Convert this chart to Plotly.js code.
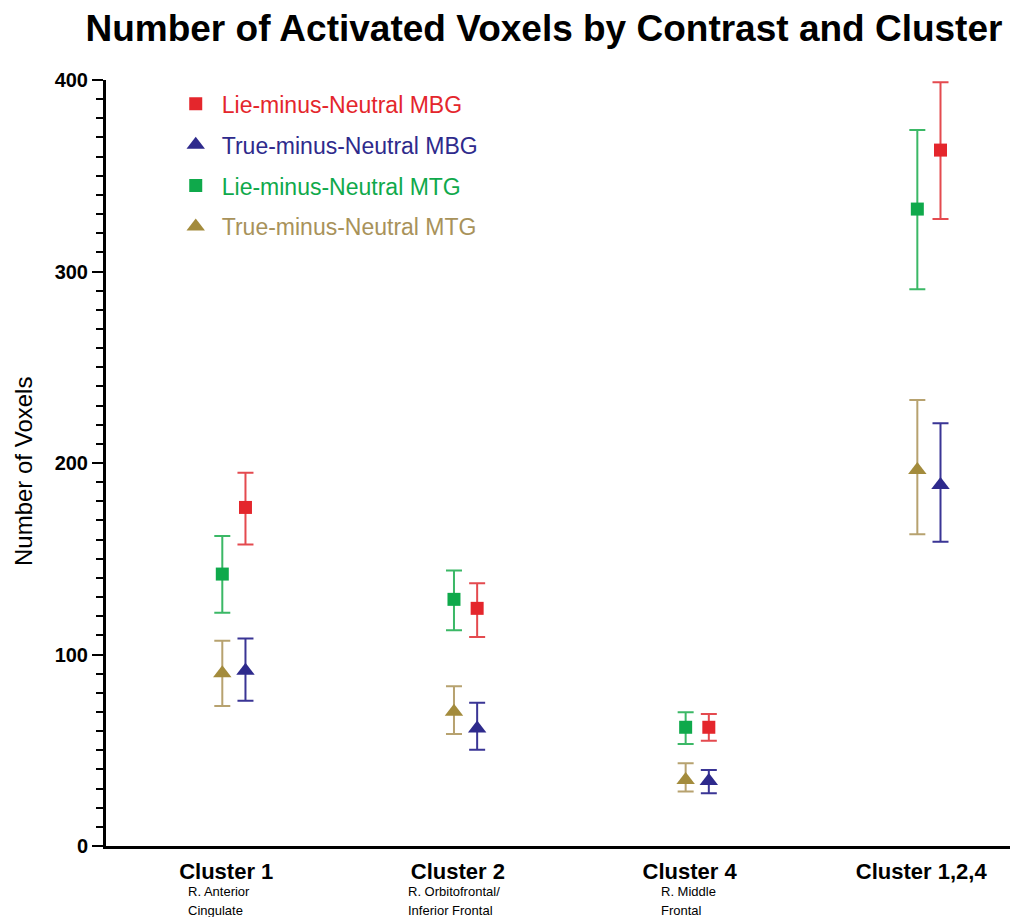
<!DOCTYPE html>
<html>
<head>
<meta charset="utf-8">
<script src="https://cdn.plot.ly/plotly-3.0.1.min.js"></script>
<style>html,body{margin:0;padding:0;background:#fff;}#chart{width:1012px;height:917px;}</style>
</head>
<body>
<div id="chart"></div>
<script>
// Categories (x positions 1..4)
const clusters = ["Cluster 1", "Cluster 2", "Cluster 4", "Cluster 1,2,4"];
const subLine1 = ["R. Anterior", "R. Orbitofrontal/", "R. Middle", ""];
const subLine2 = ["Cingulate", "Inferior Frontal", "Frontal", ""];

const seriesNames = ["Lie-minus-Neutral MBG", "True-minus-Neutral MBG", "Lie-minus-Neutral MTG", "True-minus-Neutral MTG"];

// Means, upper and lower error bounds
const lieMBG      = [176.8, 124.1, 62.0, 363.4];
const lieMBGHi    = [194.9, 137.2, 68.9, 398.8];
const lieMBGLo    = [157.4, 109.1, 55.0, 327.4];

const trueMBG     = [91.5, 61.4, 34.0, 188.5];
const trueMBGHi   = [108.3, 74.8, 39.7, 220.7];
const trueMBGLo   = [75.9, 50.3, 27.5, 158.9];

const lieMTG      = [142.0, 128.8, 62.0, 332.6];
const lieMTGHi    = [161.9, 143.8, 69.8, 373.9];
const lieMTGLo    = [121.8, 112.6, 53.3, 290.7];

const trueMTG     = [90.2, 70.1, 34.5, 196.3];
const trueMTGHi   = [107.2, 83.4, 43.2, 232.9];
const trueMTGLo   = [73.1, 58.5, 28.4, 162.8];

const yTicks = [0, 100, 200, 300, 400];

const catIdx = clusters.map((c, i) => i + 1);
const off = 0.05;

function mk(name, y, hi, lo, side, symbol, size, mcol, ecol, tcol, grp) {
  return {
    type: "scatter", mode: "markers",
    x: catIdx.map(v => v + side * off),
    y: y,
    name: "<span style='color:" + tcol + "'>" + name + "</span>",
    legendgroup: grp,
    marker: {symbol: symbol, size: size, color: mcol},
    error_y: {type: "data", symmetric: false,
      array: hi.map((v, i) => v - y[i]),
      arrayminus: lo.map((v, i) => y[i] - v),
      color: ecol, thickness: 2, width: 8},
    hoverinfo: "x+y"
  };
}

const traces = [
  mk(seriesNames[0], lieMBG, lieMBGHi, lieMBGLo, 1, "square", 13, "#e4262c", "#e44a4f", "#e4262c", "a"),
  mk(seriesNames[1], trueMBG, trueMBGHi, trueMBGLo, 1, "triangle-up", 16, "#2e2a8c", "#3a3595", "#2e2a8c", "b"),
  mk(seriesNames[2], lieMTG, lieMTGHi, lieMTGLo, -1, "square", 13, "#0fa94b", "#3bb866", "#0fa94b", "c"),
  mk(seriesNames[3], trueMTG, trueMTGHi, trueMTGLo, -1, "triangle-up", 16, "#a38b3c", "#b7a26f", "#a8925a", "d")
];

const annotations = [];
clusters.forEach((c, i) => {
  [subLine1[i], subLine2[i]].forEach((t, j) => {
    if (!t) return;
    annotations.push({
      xref: "x", yref: "paper", x: [0.792, 1.742, 2.833, 3.9][i], y: 0,
      xanchor: "left", yanchor: "middle", yshift: -45 - j * 19,
      text: t, showarrow: false,
      font: {family: "Arial, Liberation Sans, sans-serif", size: 13, color: "#000"}
    });
  });
});
// y-axis title
annotations.push({
  xref: "paper", yref: "paper", x: (23 - 106) / 904, y: (846 - 472) / 766,
  xanchor: "center", yanchor: "middle", textangle: -90,
  text: "Number of Voxels", showarrow: false,
  font: {family: "Arial, Liberation Sans, sans-serif", size: 24, color: "#000"}
});

const layout = {
  width: 1012, height: 917,
  paper_bgcolor: "#ffffff", plot_bgcolor: "#ffffff",
  margin: {l: 106, r: 2, t: 80, b: 71},
  font: {family: "Arial, Liberation Sans, sans-serif", color: "#000"},
  title: {text: "<b>Number of Activated Voxels by Contrast and Cluster</b>",
    font: {size: 37, color: "#000"}, x: 0.5375, xanchor: "center",
    y: 1 - 28 / 917, yanchor: "middle", yref: "container"},
  xaxis: {
    range: [0.448, 4.350], showgrid: false, zeroline: false,
    showline: true, linecolor: "#000", linewidth: 3,
    tickvals: catIdx.map(v => v - 0.033),
    ticktext: clusters.map(c => "<b>" + c + "</b>"),
    ticks: "", tickfont: {size: 22, color: "#000"},
    ticklabelstandoff: 4
  },
  yaxis: {
    range: [0, 400], showgrid: false, zeroline: false,
    showline: true, linecolor: "#000", linewidth: 3,
    tickvals: yTicks, ticktext: yTicks.map(v => "<b>" + v + "</b>"),
    ticks: "outside", ticklen: 11, tickwidth: 2, tickcolor: "#000",
    tickfont: {size: 20, color: "#000"},
    minor: {dtick: 10, ticks: "outside", ticklen: 7, tickwidth: 2, tickcolor: "#000", showgrid: false}
  },
  showlegend: true,
  legend: {x: 0.0705, y: 0.997, xanchor: "left", yanchor: "top",
    font: {size: 23}, bgcolor: "rgba(0,0,0,0)", traceorder: "grouped",
    tracegroupgap: 8, itemwidth: 42},
  annotations: annotations
};

Plotly.newPlot("chart", traces, layout, {displayModeBar: false, staticPlot: true});
</script>
</body>
</html>
